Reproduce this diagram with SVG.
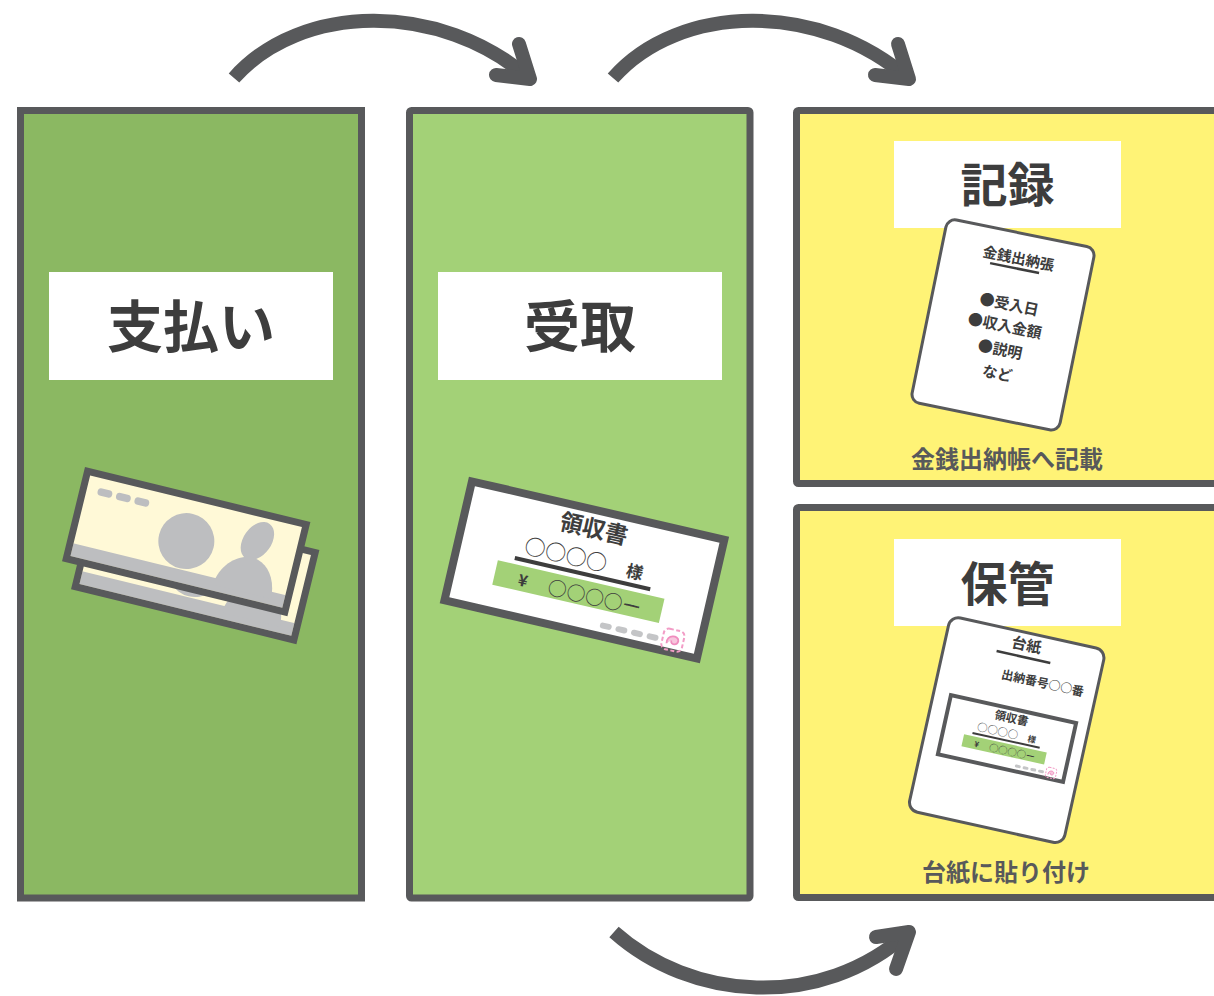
<svg xmlns="http://www.w3.org/2000/svg" xmlns:xlink="http://www.w3.org/1999/xlink" width="1214" height="996" viewBox="0 0 1214 996">
  <style>
    .jp { font-family: 'Noto Sans CJK JP', 'Noto Sans CJK SC', sans-serif; fill: #3D3D3D; }
    .head { font-size: 56px; font-weight: 700; text-anchor: middle; }
    .head2 { font-size: 47px; font-weight: 700; text-anchor: middle; }
    .cap { font-size: 24px; font-weight: 700; text-anchor: middle; fill: #58595B; }
    .panel { stroke: #58595B; stroke-width: 7; }
    .labelbox { fill: #FFFFFF; }
    .arc { fill: none; stroke: #58595B; stroke-width: 14; stroke-linecap: butt; }
    .tip { fill: none; stroke: #58595B; stroke-width: 14; stroke-linecap: round; stroke-linejoin: round; }
    .card { fill: #FFFFFF; stroke: #58595B; stroke-width: 3; }
    .gray { fill: #BDBEC0; }
  </style>
  <defs>
    <clipPath id="billClip">
      <rect x="7" y="7" width="218" height="83"/>
    </clipPath>
    <!-- banknote, local box 232 x 97 -->
    <g id="bill">
      <rect x="3.5" y="3.5" width="225" height="90" fill="#FFF9D7"/>
      <g clip-path="url(#billClip)" class="gray">
        <rect x="0" y="77" width="232" height="20"/>
        <circle cx="116" cy="48" r="28"/>
        <ellipse cx="185" cy="31" rx="14" ry="21" transform="rotate(22 185 31)"/>
        <path d="M152 84 C154 62 170 49 184 48 C199 49 211 62 212 84 Z"/>
        <rect x="18" y="16.75" width="15" height="7.5" rx="3.75"/>
        <rect x="37" y="16.75" width="15" height="7.5" rx="3.75"/>
        <rect x="56" y="16.75" width="15" height="7.5" rx="3.75"/>
      </g>
      <rect x="3.5" y="3.5" width="225" height="90" fill="none" stroke="#58595B" stroke-width="7"/>
    </g>
    <!-- receipt slip, local box 267 x 130 -->
    <g id="receipt">
      <rect x="4" y="4" width="259" height="122" fill="#FFFFFF" stroke="#58595B" stroke-width="8"/>
      <text class="jp" x="133.5" y="31" font-size="23" font-weight="700" text-anchor="middle">領収書</text>
      <text class="jp" x="70" y="62" font-size="21">○○○○</text>
      <text class="jp" x="183" y="62" font-size="17" font-weight="700" text-anchor="middle">様</text>
      <line x1="63" y1="69" x2="202" y2="69" stroke="#3D3D3D" stroke-width="4"/>
      <rect x="47" y="75" width="171" height="25" fill="#A3D177"/>
      <text class="jp" x="76" y="95" font-size="16" font-weight="700" text-anchor="middle">¥</text>
      <text class="jp" x="102" y="96.5" font-size="19">○○○○ー</text>
      <g fill="#C4C5C7">
        <rect x="161" y="112" width="12" height="6" rx="3"/>
        <rect x="177" y="112" width="12" height="6" rx="3"/>
        <rect x="193" y="112" width="12" height="6" rx="3"/>
        <rect x="209" y="112" width="12" height="6" rx="3"/>
      </g>
      <rect x="225" y="103" width="21" height="21" rx="5" fill="none" stroke="#F29CC6" stroke-width="2" stroke-dasharray="4 2.5"/>
      <path d="M230 118 C228 109 240 107 241 113 C241 118 234 119 234 114" fill="#F7C6DD" stroke="#F08DBE" stroke-width="1.8"/>
    </g>
  </defs>

  <!-- flow arrows -->
  <g id="connectors">
    <path class="arc" d="M234 78 C300 3 440 0 530 79"/>
    <path class="tip" d="M519 44 L530 79 L496 75"/>
    <path class="arc" d="M613 78 C679 3 819 0 909 79"/>
    <path class="tip" d="M898 44 L909 79 L875 75"/>
    <path class="arc" d="M614 932 C690 1000 820 1012 909 932"/>
    <path class="tip" d="M876 937 L909 932 L896 969"/>
  </g>

  <!-- payment -->
  <g id="panel-payment">
    <rect class="panel" x="20.5" y="110.5" width="341" height="787.5" fill="#8BB862"/>
    <rect class="labelbox" x="49" y="272" width="284" height="108"/>
    <text class="jp head" x="191" y="347">支払い</text>
    <use xlink:href="#bill" transform="translate(94,495) rotate(13.7)"/>
    <use xlink:href="#bill" transform="translate(85,467) rotate(13.7)"/>
  </g>

  <!-- receipt -->
  <g id="panel-receive">
    <rect class="panel" x="409.5" y="110.5" width="340.5" height="787.5" rx="2" fill="#A3D177"/>
    <rect class="labelbox" x="438" y="272" width="284" height="108"/>
    <text class="jp head" x="580" y="347">受取</text>
    <use xlink:href="#receipt" transform="translate(584.4,570) rotate(13) translate(-133.5,-65)"/>
  </g>

  <!-- record -->
  <g id="panel-record">
    <rect class="panel" x="796.5" y="110.5" width="480" height="373" rx="2" fill="#FFF376"/>
    <rect class="labelbox" x="894" y="141" width="227" height="87"/>
    <text class="jp head2" x="1007.5" y="202">記録</text>
    <g transform="translate(946.5,216.5) rotate(11.5)">
      <rect class="card" x="1.5" y="1.5" width="151" height="187" rx="9"/>
      <text class="jp" x="79" y="32" font-size="14.5" font-weight="700" text-anchor="middle">金銭出納張</text>
      <line x1="52" y1="37" x2="102" y2="37" stroke="#3D3D3D" stroke-width="2.5"/>
      <g class="jp" font-size="15" font-weight="700" text-anchor="middle">
        <text x="79" y="79">●受入日</text>
        <text x="79" y="101">●収入金額</text>
        <text x="79" y="125">●説明</text>
        <text x="81" y="149">など</text>
      </g>
    </g>
    <text class="jp cap" x="1007" y="467.5">金銭出納帳へ記載</text>
  </g>

  <!-- storage -->
  <g id="panel-store">
    <rect class="panel" x="796.5" y="507.5" width="480" height="390" rx="2" fill="#FFF376"/>
    <rect class="labelbox" x="894" y="539" width="227" height="87"/>
    <text class="jp head2" x="1007.5" y="601">保管</text>
    <g transform="translate(949.5,614) rotate(12.5)">
      <rect class="card" x="1.5" y="1.5" width="159" height="199" rx="10"/>
      <text class="jp" x="82" y="19" font-size="15" font-weight="700" text-anchor="middle">台紙</text>
      <line x1="54" y1="26" x2="109" y2="26" stroke="#3D3D3D" stroke-width="2.5"/>
      <text class="jp" x="106" y="51.5" font-size="12" font-weight="700" text-anchor="middle">出納番号○○番</text>
      <use xlink:href="#receipt" transform="translate(17,77) scale(0.495)"/>
    </g>
    <text class="jp cap" x="1006" y="881">台紙に貼り付け</text>
  </g>
</svg>
